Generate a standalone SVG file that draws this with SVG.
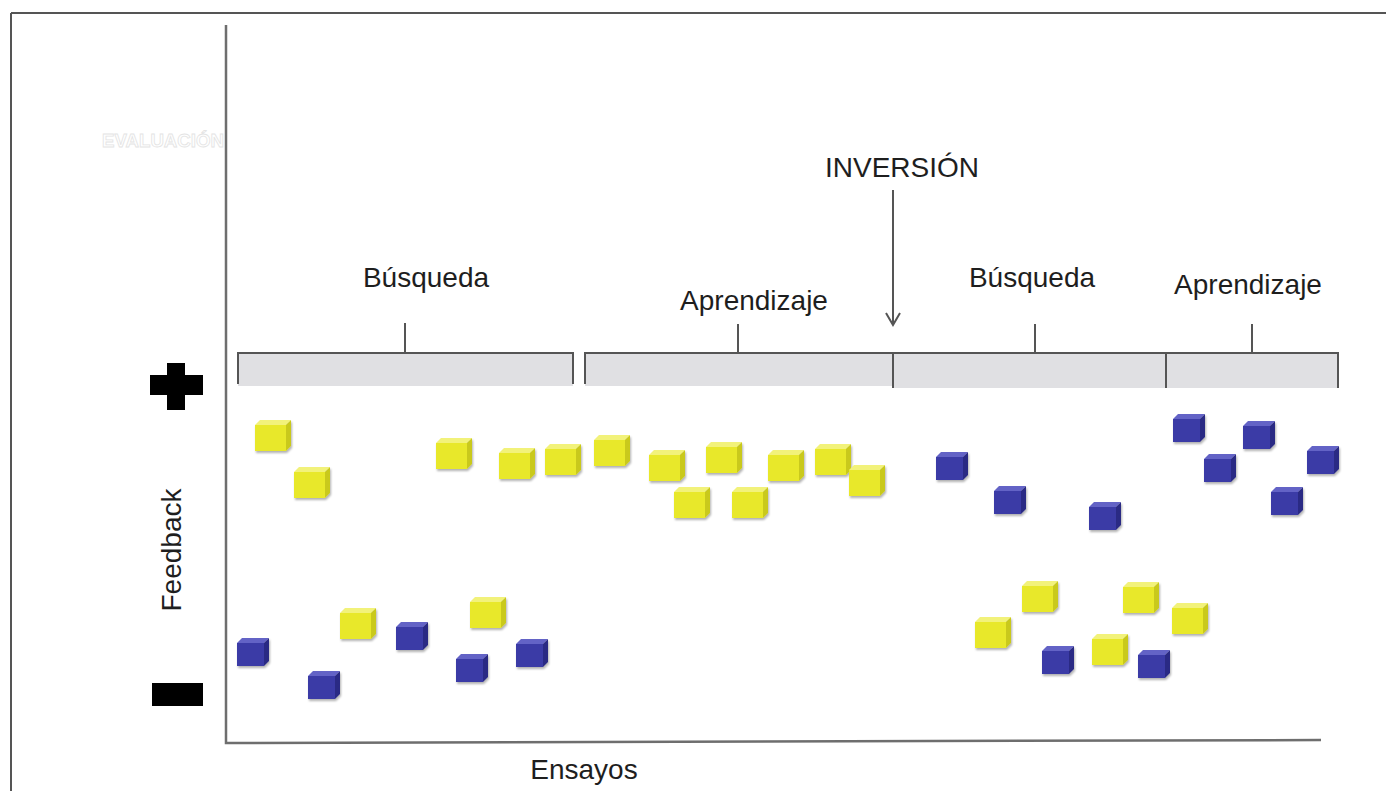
<svg xmlns="http://www.w3.org/2000/svg" xmlns:xlink="http://www.w3.org/1999/xlink" width="1386" height="791" viewBox="0 0 1386 791">
<defs>
<style>
.lbl{font-family:"Liberation Sans",Arial,sans-serif;font-size:28px;fill:#1e1e1e}
.ln{stroke:#555;stroke-width:2;fill:none}
.ax{stroke:#6e6e6e;stroke-width:2.5;fill:none}
.bar{fill:#e0e0e3}
</style>
<filter id="sh" x="-20%" y="-20%" width="150%" height="150%">
<feDropShadow dx="1" dy="2" stdDeviation="1.2" flood-color="#000" flood-opacity="0.3"/>
</filter>
<g id="ycube" filter="url(#sh)">
<polygon points="0,5 5,0 36,0 31,5" fill="#f2f27a"/>
<polygon points="31,5 36,0 36,26 31,31" fill="#c9c91c"/>
<rect x="0" y="5" width="31" height="26" fill="#e8e82a"/>
</g>
<g id="bcube" filter="url(#sh)">
<polygon points="0,5 5,0 32,0 27,5" fill="#6464c6"/>
<polygon points="27,5 32,0 32,23 27,28" fill="#2a2a84"/>
<rect x="0" y="5" width="27" height="23" fill="#3a3aa6"/>
</g>
</defs>
<rect width="1386" height="791" fill="#fff"/>
<g id="frame">
<path class="ln" d="M11,13 H1386 M11,13 V791"/>
</g>
<g id="axes">
<path class="ax" d="M226,25 V743 L1321,740"/>
<text x="102" y="147" font-family="Liberation Sans,Arial,sans-serif" font-weight="bold" font-size="18" fill="#fff" stroke="#e4e4e4" stroke-width="0.8" textLength="122" lengthAdjust="spacingAndGlyphs">EVALUACIÓN</text>
</g>
<g id="signs">
<path d="M167,363 H185 V375 H203 V395 H185 V410 H167 V395 H150 V375 H167 Z" fill="#000"/>
<rect x="152" y="683" width="51" height="23" fill="#000"/>
</g>
<g id="bars">
<rect class="bar" x="238" y="354" width="335" height="32"/>
<rect class="bar" x="585" y="354" width="307" height="32"/>
<rect class="bar" x="893" y="354" width="273" height="34"/>
<rect class="bar" x="1166" y="354" width="172" height="34"/>
</g>
<g id="connectors">
<path class="ln" d="M238,384 V353 H573 V384 M405,323 V353"/>
<path class="ln" d="M585,384 V353 H892 M738,324 V353"/>
<path class="ln" d="M893,388 V353 H1338 V388 M1166,353 V388 M1035,324 V353 M1252,324 V353"/>
<path class="ln" d="M893,190 V325 M886,313 L893,325 L900,313"/>
</g>
<g id="labels">
<text class="lbl" x="426" y="287" text-anchor="middle">Búsqueda</text>
<text class="lbl" x="754" y="310" text-anchor="middle">Aprendizaje</text>
<text class="lbl" x="1032" y="287" text-anchor="middle">Búsqueda</text>
<text class="lbl" x="1248" y="294" text-anchor="middle">Aprendizaje</text>
<text class="lbl" x="902" y="177" text-anchor="middle">INVERSIÓN</text>
<text class="lbl" x="584" y="779" text-anchor="middle">Ensayos</text>
<text class="lbl" transform="translate(181,550) rotate(-90)" text-anchor="middle">Feedback</text>
</g>
<g id="cubes">
<use id="y1" xlink:href="#ycube" x="255" y="420"/>
<use id="y2" xlink:href="#ycube" x="294" y="467"/>
<use id="y3" xlink:href="#ycube" x="436" y="438"/>
<use id="y4" xlink:href="#ycube" x="499" y="448"/>
<use id="y5" xlink:href="#ycube" x="545" y="444"/>
<use id="y6" xlink:href="#ycube" x="594" y="435"/>
<use id="y7" xlink:href="#ycube" x="649" y="450"/>
<use id="y8" xlink:href="#ycube" x="706" y="442"/>
<use id="y9" xlink:href="#ycube" x="674" y="487"/>
<use id="y10" xlink:href="#ycube" x="732" y="487"/>
<use id="y11" xlink:href="#ycube" x="768" y="450"/>
<use id="y12" xlink:href="#ycube" x="815" y="444"/>
<use id="y13" xlink:href="#ycube" x="849" y="465"/>
<use id="b1" xlink:href="#bcube" x="936" y="452"/>
<use id="b2" xlink:href="#bcube" x="994" y="486"/>
<use id="b3" xlink:href="#bcube" x="1089" y="502"/>
<use id="b4" xlink:href="#bcube" x="1173" y="414"/>
<use id="b5" xlink:href="#bcube" x="1204" y="454"/>
<use id="b6" xlink:href="#bcube" x="1243" y="421"/>
<use id="b7" xlink:href="#bcube" x="1271" y="487"/>
<use id="b8" xlink:href="#bcube" x="1307" y="446"/>
<use id="b9" xlink:href="#bcube" x="237" y="638"/>
<use id="b10" xlink:href="#bcube" x="308" y="671"/>
<use id="b11" xlink:href="#bcube" x="396" y="622"/>
<use id="b12" xlink:href="#bcube" x="456" y="654"/>
<use id="b13" xlink:href="#bcube" x="516" y="639"/>
<use id="y14" xlink:href="#ycube" x="340" y="608"/>
<use id="y15" xlink:href="#ycube" x="470" y="597"/>
<use id="y16" xlink:href="#ycube" x="975" y="617"/>
<use id="y17" xlink:href="#ycube" x="1022" y="581"/>
<use id="y18" xlink:href="#ycube" x="1092" y="634"/>
<use id="y19" xlink:href="#ycube" x="1123" y="582"/>
<use id="y20" xlink:href="#ycube" x="1172" y="603"/>
<use id="b14" xlink:href="#bcube" x="1042" y="646"/>
<use id="b15" xlink:href="#bcube" x="1138" y="650"/>
</g>
</svg>
